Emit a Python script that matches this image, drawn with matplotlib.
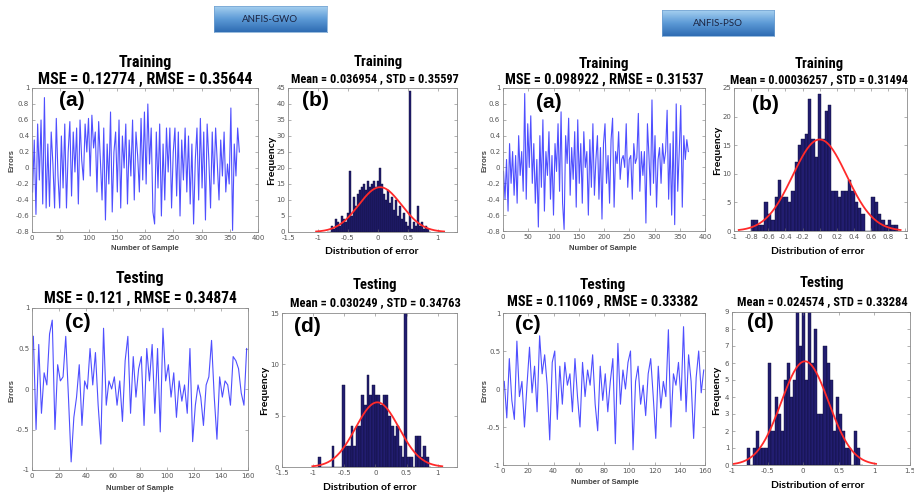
import numpy as np
import matplotlib.pyplot as plt
from matplotlib.colors import LinearSegmentedColormap

# ---- error series (every 3rd sample for training, every 2nd for testing)
gwo_train = [-0.30, 0.35, -0.58, 0.55, -0.15, 0.60, -0.45, 0.88, -0.50, 0.30,
             -0.48, 0.45, 0.05, -0.50, 0.62, -0.10, -0.50, 0.40, -0.25, 0.55,
             -0.50, 0.20, 0.58, -0.35, 0.45, -0.05, 0.50, -0.45, 0.60, 0.10,
             -0.15, 0.55, 0.20, 0.62, -0.10, 0.66, 0.25, 0.45, -0.30, 0.58,
             0.10, -0.40, 0.50, -0.65, 0.30, -0.20, 0.70, -0.55, 0.20, 0.45,
             -0.30, 0.60, -0.50, 0.40, 0.00, 0.55, -0.45, 0.35, -0.10, 0.60,
             -0.40, 0.45, 0.15, -0.30, 0.62, -0.15, 0.70, -0.20, 0.80, 0.05,
             0.50, -0.55, -0.70, 0.45, -0.25, 0.55, -0.60, 0.30, -0.40, 0.50,
             -0.05, 0.50, -0.50, 0.20, 0.50, -0.35, 0.45, -0.60, 0.35, -0.15,
             0.50, -0.30, 0.40, -0.45, 0.30, -0.70, 0.10, 0.50, -0.40, 0.62,
             -0.25, 0.45, -0.65, 0.55, 0.10, -0.50, 0.45, -0.20, 0.50, 0.05,
             -0.40, 0.35, -0.10, 0.45, -0.30, 0.05, -0.20, 0.75, -0.78, 0.30,
             -0.10, 0.50, 0.20]
pso_train = [-0.05, -0.40, 0.10, -0.55, 0.30, -0.20, 0.20, -0.35, 0.15, -0.45,
             0.40, -0.10, 0.20, -0.30, 0.93, -0.40, 0.55, 0.00, 0.65, -0.20,
             0.30, -0.45, 0.10, -0.75, 0.40, -0.25, 0.60, -0.55, 0.20, -0.10,
             0.45, -0.40, 0.15, -0.60, 0.30, -0.05, 0.55, -0.30, 0.70, -0.45,
             -0.78, 0.40, 0.05, 0.62, -0.35, 0.25, -0.15, 0.45, -0.50, 0.60,
             -0.20, 0.30, -0.45, 0.45, 0.00, 0.20, -0.60, 0.35, -0.25, 0.55,
             -0.35, 0.10, 0.40, -0.40, 0.25, -0.65, 0.30, 0.55, -0.20, 0.15,
             -0.45, 0.35, 0.62, -0.50, 0.20, 0.05, 0.45, -0.15, 0.10, 0.15,
             0.00, 0.55, -0.25, 0.10, 0.15, -0.40, 0.30, 0.05, 0.12, 0.68,
             -0.30, 0.20, -0.10, 0.20, -0.70, 0.55, 0.15, -0.35, 0.85, -0.20,
             0.40, -0.50, 0.10, 0.25, -0.20, 0.30, 0.05, 0.20, 0.72, -0.40,
             0.30, -0.60, 0.45, -0.72, 0.80, -0.30, 0.20, 0.78, -0.50, 0.40,
             0.10, 0.35, 0.20]
gwo_test = [0.65, -0.50, 0.55, -0.30, 0.20, 0.05, 0.68, 0.85, -0.50, 0.30,
            0.10, 0.15, 0.65, -0.10, -0.90, -0.35, -0.10, 0.30, -0.45, 0.10,
            0.00, 0.50, 0.05, 0.45, -0.20, -0.68, 0.75, -0.20, 0.10, 0.00,
            0.15, -0.20, 0.10, -0.40, 0.35, 0.65, -0.30, 0.40, -0.10, 0.25,
            0.40, -0.45, 0.50, 0.10, 0.55, -0.30, 0.50, -0.53, 0.75, 0.10,
            0.30, -0.10, 0.20, -0.35, 0.10, -0.15, 0.05, -0.30, 0.50, -0.65,
            -0.20, 0.05, -0.10, -0.45, 0.05, 0.15, 0.60, -0.10, -0.62, 0.15,
            -0.10, 0.10, 0.05, -0.20, 0.40, 0.35, 0.25, -0.05, -0.20, 0.50]
pso_test = [0.10, -0.38, 0.40, -0.15, -0.40, 0.63, -0.10, 0.10, -0.50, 0.05,
            0.55, -0.05, 0.30, -0.30, 0.70, 0.20, 0.45, 0.05, -0.67, 0.35,
            0.50, -0.40, 0.30, -0.20, 0.35, 0.05, 0.20, -0.30, 0.40, -0.10,
            -0.50, 0.35, -0.10, 0.25, 0.05, 0.45, -0.20, -0.55, 0.30, -0.15,
            0.20, -0.30, 0.10, 0.40, -0.72, 0.60, -0.20, 0.25, 0.00, 0.35,
            0.50, -0.80, 0.10, 0.30, -0.20, 0.05, -0.35, 0.20, 0.40, -0.10,
            -0.65, 0.30, -0.25, 0.10, -0.10, 0.78, -0.50, 0.20, 0.05, 0.35,
            -0.15, 0.82, -0.30, 0.45, 0.10, -0.65, 0.15, 0.50, -0.05, 0.25]

# ---- histogram counts (bin range lo..hi, equal bins)
gwo_train_hist = [0, 0, 2, 1, 4, 3, 2, 5, 4, 3, 6, 19, 5, 11, 8, 12, 13, 14, 15, 13,
                  16, 14, 15, 16, 14, 16, 20, 15, 12, 10, 13, 9, 11, 7, 10, 5, 8, 4,
                  6, 3, 2, 44, 1, 3, 2, 8, 2, 3, 1, 2, 1, 0]
gwo_train_rng = (-0.85, 0.88)
pso_train_hist = [2, 2, 1, 1, 5, 3, 2, 6, 9, 6, 6, 5, 7, 12, 15, 16, 17, 23, 16, 13,
                  24, 16, 21, 22, 7, 7, 6, 7, 7, 9, 7, 5, 4, 3, 0, 0, 6, 5, 3, 2,
                  1, 2, 1, 1, 0]
pso_train_rng = (-0.80, 0.955)
gwo_test_hist = [1, 0, 0, 0, 0, 2, 0, 0, 0, 8, 2, 2, 4, 2, 4, 4, 7, 6, 9, 7,
                 8, 7, 7, 6, 7, 7, 5, 4, 3, 4, 2, 1, 17, 1, 1, 0, 3, 3, 1, 2, 1, 0]
gwo_test_rng = (-0.92, 0.90)
pso_test_hist = [1, 0, 1, 2, 1, 1, 1, 6, 2, 4, 3, 2, 5, 6, 4, 5, 9, 7, 9, 5,
                 9, 6, 8, 3, 3, 7, 6, 5, 2, 4, 3, 2, 1, 1, 0, 2, 1, 0]
pso_test_rng = (-0.79, 0.844)

# fitted normal: mean, std, peak height
gwo_train_fit = (0.036954, 0.35597, 14.0)
pso_train_fit = (0.00036257, 0.31494, 16.0)
gwo_test_fit = (0.030249, 0.34763, 6.3)
pso_test_fit = (0.024574, 0.33284, 6.1)

W, H = 914, 495
fig = plt.figure(figsize=(W / 100, H / 100), dpi=100)
fig.patch.set_facecolor('white')

TITLE_FONT = ['Roboto Condensed', 'Liberation Sans', 'DejaVu Sans']
LABEL_FONT = ['Lato', 'Open Sans', 'DejaVu Sans']


def rect(x0, y0, x1, y1):
    return [x0 / W, 1 - y1 / H, (x1 - x0) / W, (y1 - y0) / H]


def ftext(x, y, s, **kw):
    fig.text(x / W, 1 - y / H, s, ha='center', va='center', **kw)


def style(ax):
    ax.tick_params(direction='in', top=True, right=True, length=2, width=0.4,
                   labelsize=5, labelcolor='#555555', color='#777777', pad=2)
    for sp in ax.spines.values():
        sp.set_color('#8a8a8a')
        sp.set_linewidth(0.6)


def line_panel(box, series, step, xmax, xticks, ylim, yticks):
    ax = fig.add_axes(rect(*box))
    x = 1 + step * np.arange(len(series))
    ax.plot(x, series, color='#3030ff', lw=0.8, alpha=0.85)
    ax.set_xlim(0, xmax)
    ax.set_ylim(*ylim)
    ax.set_xticks(xticks)
    ax.set_yticks(yticks)
    ax.set_yticklabels(['%g' % t for t in yticks])
    style(ax)
    return ax


def hist_panel(box, counts, rng, fit, xlim, xticks, ylim, yticks):
    ax = fig.add_axes(rect(*box))
    edges = np.linspace(rng[0], rng[1], len(counts) + 1)
    centers = (edges[:-1] + edges[1:]) / 2
    ax.bar(centers, counts, width=edges[1] - edges[0], color='#221d70',
           edgecolor='#0c0b35', linewidth=0.3)
    mu, sd, peak = fit
    xc = np.linspace(mu - 3 * sd, mu + 3 * sd, 200)
    ax.plot(xc, peak * np.exp(-0.5 * ((xc - mu) / sd) ** 2), color='#ff2a2a', lw=1.3)
    ax.set_xlim(*xlim)
    ax.set_ylim(*ylim)
    ax.set_xticks(xticks)
    ax.set_xticklabels(['%g' % t for t in xticks])
    ax.set_yticks(yticks)
    style(ax)
    return ax


train_yticks = [-0.8, -0.6, -0.4, -0.2, 0, 0.2, 0.4, 0.6, 0.8, 1]
test_yticks = [-1, -0.5, 0, 0.5, 1]

# ---- panels
line_panel((32, 88, 258, 232), gwo_train, 3, 400, range(0, 401, 50), (-0.8, 1), train_yticks)
hist_panel((288, 88, 457, 232), gwo_train_hist, gwo_train_rng, gwo_train_fit,
           (-1.5, 1.32), [-1.5, -1, -0.5, 0, 0.5, 1], (0, 45), range(0, 46, 5))
line_panel((503, 88, 705, 231), pso_train, 3, 400, range(0, 401, 50), (-0.8, 1), train_yticks)
hist_panel((734, 88, 907, 231), pso_train_hist, pso_train_rng, pso_train_fit,
           (-1, 1.02), [-1, -0.8, -0.6, -0.4, -0.2, 0, 0.2, 0.4, 0.6, 0.8, 1],
           (0, 25), range(0, 26, 5))
line_panel((32, 308, 248, 470), gwo_test, 2, 160, range(0, 161, 20), (-1, 1), test_yticks)
hist_panel((282, 313, 457, 467), gwo_test_hist, gwo_test_rng, gwo_test_fit,
           (-1.5, 1.31), [-1.5, -1, -0.5, 0, 0.5, 1], (0, 15), [0, 5, 10, 15])
line_panel((503, 313, 705, 465), pso_test, 2, 160, range(0, 161, 20), (-1, 1), test_yticks)
hist_panel((732, 312, 910, 465), pso_test_hist, pso_test_rng, pso_test_fit,
           (-1, 1.5), [-1, -0.5, 0, 0.5, 1, 1.5], (0, 9), range(0, 10))

# ---- titles
tkw = dict(family=TITLE_FONT, weight='bold', color='black')
ftext(145, 62, 'Training', fontsize=11.5, **tkw)
ftext(145, 79, 'MSE = 0.12774 , RMSE = 0.35644', fontsize=11.5, **tkw)
ftext(378, 62, 'Training', fontsize=10.5, **tkw)
ftext(375, 79, 'Mean = 0.036954 , STD = 0.35597', fontsize=8.8, **tkw)
ftext(604, 64, 'Training', fontsize=11, **tkw)
ftext(604, 80, 'MSE = 0.098922 , RMSE = 0.31537', fontsize=10.3, **tkw)
ftext(819, 64, 'Training', fontsize=10.5, **tkw)
ftext(819, 80, 'Mean = 0.00036257 , STD = 0.31494', fontsize=8.7, **tkw)
ftext(140, 279, 'Testing', fontsize=11.5, **tkw)
ftext(140, 298, 'MSE = 0.121 , RMSE = 0.34874', fontsize=11.2, **tkw)
ftext(375, 285, 'Testing', fontsize=10.5, **tkw)
ftext(375, 303, 'Mean = 0.030249 , STD = 0.34763', fontsize=9, **tkw)
ftext(603, 285, 'Testing', fontsize=11, **tkw)
ftext(603, 302, 'MSE = 0.11069 , RMSE = 0.33382', fontsize=10.3, **tkw)
ftext(822, 283, 'Testing', fontsize=10.5, **tkw)
ftext(822, 302, 'Mean = 0.024574 , STD = 0.33284', fontsize=9, **tkw)

# ---- panel tags
gkw = dict(family=['Liberation Sans', 'DejaVu Sans'], weight='bold', fontsize=15)
for x, y, s in [(72, 100, '(a)'), (315, 101, '(b)'), (549, 102, '(a)'), (765, 104, '(b)'),
                (78, 322, '(c)'), (307, 327, '(d)'), (528, 325, '(c)'), (760, 322, '(d)')]:
    ftext(x, y, s, **gkw)

# ---- axis labels
skw = dict(family=['Liberation Sans', 'DejaVu Sans'], fontsize=5.5, color='#444444', weight='bold')
for x, y in [(145, 248), (140, 489), (603, 248), (605, 483)]:
    ftext(x, y, 'Number of Sample', **skw)
for x, y in [(12, 160), (485, 160), (12, 390), (485, 390)]:
    ftext(x, y, 'Errors', rotation=90, **skw)
dkw = dict(family=LABEL_FONT, fontsize=7.5, weight='bold', color='black')
for x, y in [(372, 252), (370, 487), (818, 252), (818, 485)]:
    ftext(x, y, 'Distribution of error', **dkw)
for x, y in [(272, 160), (265, 390), (718, 150), (717, 390)]:
    ftext(x, y, 'Frequency', rotation=90, **dkw)

# ---- header boxes
grad = LinearSegmentedColormap.from_list('hdr', ['#a6d0f0', '#5c9ad6', '#2f6cb3'])
for (x0, y0, x1, y1), s in [((214, 6, 327, 32), 'ANFIS-GWO'), ((662, 10, 774, 36), 'ANFIS-PSO')]:
    bx = fig.add_axes(rect(x0, y0, x1, y1))
    bx.imshow(np.linspace(0, 1, 64).reshape(-1, 1), aspect='auto', cmap=grad,
              extent=[0, 1, 0, 1])
    bx.set_xticks([])
    bx.set_yticks([])
    for sp in bx.spines.values():
        sp.set_color('#6f9fcf')
        sp.set_linewidth(0.5)
    bx.text(0.5, 0.5, s, ha='center', va='center', fontsize=7, color='#1b2340',
            family=LABEL_FONT, transform=bx.transAxes)

fig.savefig('out.png', dpi=100)
